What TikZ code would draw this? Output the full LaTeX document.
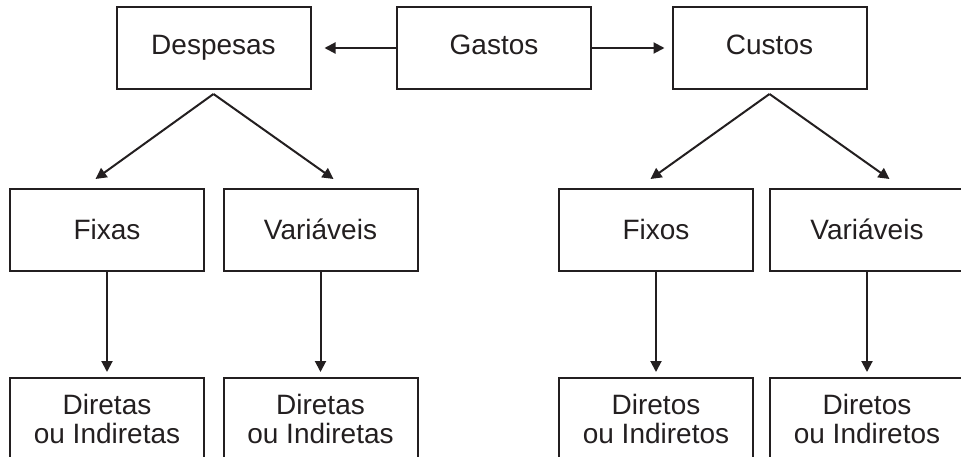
\documentclass[tikz,border=0pt]{standalone}
\usepackage{fontspec}
\setmainfont{Liberation Sans}
\usetikzlibrary{calc,positioning,arrows.meta}
\definecolor{tinta}{RGB}{35,31,32}

\begin{document}
\begin{tikzpicture}[x=1pt,y=-1pt,
  caixa/.style={draw=tinta,line width=2pt,minimum width=194pt,minimum height=82pt,
    inner sep=0pt,align=center,text=tinta,font=\fontsize{28}{29}\selectfont},
  linha/.style={caixa,text height=20pt,text depth=6pt},
  seta/.style={draw=tinta,line width=2pt,-{Triangle[length=11pt,width=11pt]}}]
\useasboundingbox (0,0) rectangle (961,457);
\clip (0,0) rectangle (961,457);
\node[linha] (desp) at (213.5,48) {Despesas};
\node[linha] (gastos) at (494,48) {Gastos};
\node[linha] (custos) at (769.5,48) {Custos};
\node[linha,text depth=0pt] (fixas) at (107,230) {Fixas};
\node[linha,text depth=0pt] (vard) at (320.5,230) {Vari\'aveis};
\node[linha,text depth=0pt] (fixos) at (656,230) {Fixos};
\node[linha,text depth=0pt] (varc) at (867,230) {Vari\'aveis};
\node[caixa] (dfixas) at (107,419) {Diretas\\ou Indiretas};
\node[caixa] (dvard) at (320.5,419) {Diretas\\ou Indiretas};
\node[caixa] (dfixos) at (656,419) {Diretos\\ou Indiretos};
\node[caixa] (dvarc) at (867,419) {Diretos\\ou Indiretos};
\draw[seta] (gastos.west) -- ([xshift=13pt]desp.east);
\draw[seta] (gastos.east) -- ([xshift=-7pt]custos.west);
\draw[seta] ([yshift=-4pt]desp.south) -- +(-118,85);
\draw[seta] ([yshift=-4pt]desp.south) -- +(120,85);
\draw[seta] ([yshift=-4pt]custos.south) -- +(-119,85);
\draw[seta] ([yshift=-4pt]custos.south) -- +(120,85);
\draw[seta] (fixas.south) -- ([yshift=5pt]dfixas.north);
\draw[seta] (vard.south) -- ([yshift=5pt]dvard.north);
\draw[seta] (fixos.south) -- ([yshift=5pt]dfixos.north);
\draw[seta] (varc.south) -- ([yshift=5pt]dvarc.north);
\end{tikzpicture}
\end{document}
